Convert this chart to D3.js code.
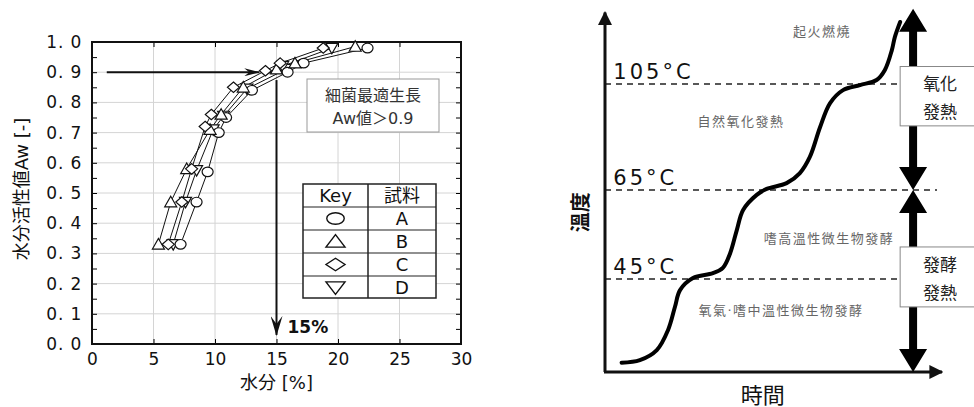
<!DOCTYPE html>
<html>
<head>
<meta charset="utf-8">
<script src="https://cdn.jsdelivr.net/npm/d3@7"></script>
<style>
  body { margin: 0; background: #fff; }
  svg { display: block; }
  text { font-family: "DejaVu Sans", "Noto Sans CJK JP", sans-serif; }
</style>
</head>
<body>
<div id="chart"></div>
<script>
// ---- left chart data: water content [%] vs water activity ----
const seriesKeys = ["A", "B", "C", "D"];
const seriesShapes = ["circle", "up", "diamond", "down"];
const awA = [0.33, 0.47, 0.57, 0.70, 0.75, 0.84, 0.90, 0.93, 0.98];
const moistA = [7.2, 8.5, 9.4, 10.3, 10.9, 13.0, 15.9, 17.2, 22.4];
const awB = [0.33, 0.47, 0.58, 0.71, 0.76, 0.85, 0.91, 0.93, 0.985];
const moistB = [5.4, 6.4, 7.7, 9.6, 10.5, 12.3, 15.0, 16.5, 21.4];
const awC = [0.33, 0.47, 0.58, 0.72, 0.76, 0.85, 0.905, 0.93, 0.98];
const moistC = [6.2, 7.3, 8.1, 9.2, 9.7, 11.5, 14.1, 15.3, 18.8];
const awD = [0.33, 0.47, 0.575, 0.71, 0.755, 0.845, 0.91, 0.92, 0.98];
const moistD = [6.6, 7.6, 8.5, 9.85, 10.7, 12.6, 15.8, 15.5, 19.5];
const xTicks = [0, 5, 10, 15, 20, 25, 30];
const yTicks = [0, 0.1, 0.2, 0.3, 0.4, 0.5, 0.6, 0.7, 0.8, 0.9, 1.0];

// ---- right chart data: temperature vs time (schematic) ----
const tempLevels = [45, 65, 105];
const curveTime = [5.0, 10.5, 15.6, 19.0, 21.1, 22.6, 26.5, 32.5, 35.5, 37.7, 39.7, 41.6, 45.7, 48.7,
  54.7, 58.7, 61.7, 64.8, 67.8, 71.7, 76.8, 81.8, 84.3, 86.4, 87.3, 88.9];
const curveTemp = [22.5, 23.2, 25.9, 31.3, 37.6, 42.0, 45.2, 46.3, 47.5, 50.8, 56.0, 60.5, 63.9, 65.4,
  67.6, 71.4, 77.5, 88.8, 97.8, 102.7, 104.6, 106.5, 110.3, 117.8, 122.7, 128.4];
const stageLabels = ["起火燃燒", "自然氧化發熱", "嗜高溫性微生物發酵", "氧氣·嗜中溫性微生物發酵"];
const stageTime = [65.4, 41.0, 67.5, 53.0];
const stageTemp = [125, 91, 54, 36.5];

const svg = d3.select("#chart").append("svg")
  .attr("width", 974).attr("height", 407);

// ================= LEFT CHART =================
const x = d3.scaleLinear().domain([0, 30]).range([92, 461]);
const y = d3.scaleLinear().domain([0, 1]).range([344, 42]);

const left = svg.append("g");

// grid
left.append("g").selectAll("line.gx")
  .data(xTicks.slice(1, -1))
  .join("line")
  .attr("x1", d => x(d)).attr("x2", d => x(d))
  .attr("y1", y(0)).attr("y2", y(1))
  .attr("stroke", "#d4d4d4").attr("stroke-width", 1);
left.append("g").selectAll("line.gy")
  .data(yTicks.slice(1, -1))
  .join("line")
  .attr("x1", x(0)).attr("x2", x(30))
  .attr("y1", d => y(d)).attr("y2", d => y(d))
  .attr("stroke", "#d4d4d4").attr("stroke-width", 1);

// axes with inward ticks
const fmtY = d => d3.format(".1f")(d).replace(".", ". ");
const yMinor = d3.range(0, 1.001, 0.05);

left.append("g")
  .attr("transform", `translate(${x(0)},0)`)
  .call(d3.axisLeft(y).tickValues(yMinor).tickSizeInner(-5).tickSizeOuter(0).tickPadding(10)
    .tickFormat(d => yTicks.some(t => Math.abs(t - d) < 1e-6) ? fmtY(d) : ""))
  .call(g => g.select(".domain").remove())
  .call(g => g.selectAll("text").attr("font-size", 17).attr("letter-spacing", 0.8)
    .attr("font-family", "DejaVu Sans, sans-serif").attr("fill", "#111"));

left.append("g")
  .attr("transform", `translate(${x(30)},0)`)
  .call(d3.axisRight(y).tickValues(yMinor).tickSizeInner(-5).tickSizeOuter(0).tickFormat(""))
  .call(g => g.select(".domain").remove());

left.append("g")
  .attr("transform", `translate(0,${y(0)})`)
  .call(d3.axisBottom(x).tickValues(xTicks).tickSizeInner(-5).tickSizeOuter(0).tickPadding(9))
  .call(g => g.select(".domain").remove())
  .call(g => g.selectAll("text").attr("font-size", 17)
    .attr("font-family", "DejaVu Sans, sans-serif").attr("fill", "#111"));

left.append("g")
  .attr("transform", `translate(0,${y(1)})`)
  .call(d3.axisTop(x).tickValues(xTicks).tickSizeInner(-5).tickSizeOuter(0).tickFormat(""))
  .call(g => g.select(".domain").remove());

left.append("rect")
  .attr("x", x(0)).attr("y", y(1))
  .attr("width", x(30) - x(0)).attr("height", y(0) - y(1))
  .attr("fill", "none").attr("stroke", "#111").attr("stroke-width", 2);

// axis titles
left.append("text")
  .attr("transform", `translate(21,${(y(0) + y(1)) / 2 - 4}) rotate(-90)`)
  .attr("text-anchor", "middle").attr("dominant-baseline", "central")
  .attr("font-size", 18).attr("fill", "#111")
  .attr("font-family", "Noto Sans CJK JP, sans-serif")
  .text("水分活性値Aw [-]");
left.append("text")
  .attr("x", (x(0) + x(30)) / 2).attr("y", 389)
  .attr("text-anchor", "middle").attr("font-size", 18).attr("fill", "#111")
  .attr("font-family", "Noto Sans CJK JP, sans-serif")
  .text("水分 [%]");

// symbols
function shapePath(kind, w, h) {
  if (kind === "up") return `M0,${-h * 0.55}L${w / 2},${h * 0.45}L${-w / 2},${h * 0.45}Z`;
  if (kind === "down") return `M0,${h * 0.55}L${w / 2},${-h * 0.45}L${-w / 2},${-h * 0.45}Z`;
  if (kind === "diamond") return `M0,${-h / 2}L${w / 2},0L0,${h / 2}L${-w / 2},0Z`;
  return null;
}
function drawSymbol(g, kind, cx, cy, w, h, sw) {
  if (kind === "circle") {
    g.append("ellipse").attr("cx", cx).attr("cy", cy)
      .attr("rx", w * 0.46).attr("ry", h * 0.46)
      .attr("fill", "#fff").attr("stroke", "#111").attr("stroke-width", sw);
  } else {
    g.append("path").attr("d", shapePath(kind, w, h))
      .attr("transform", `translate(${cx},${cy})`)
      .attr("fill", "#fff").attr("stroke", "#111").attr("stroke-width", sw);
  }
}

const seriesData = [
  d3.zip(moistA, awA), d3.zip(moistB, awB), d3.zip(moistC, awC), d3.zip(moistD, awD)
];
const line = d3.line().x(d => x(d[0])).y(d => y(d[1]));

const marks = left.append("g");
seriesData.forEach(pts => {
  marks.append("path").attr("d", line(pts))
    .attr("fill", "none").attr("stroke", "#111").attr("stroke-width", 1);
});
[3, 0, 1, 2].forEach(i => {
  seriesData[i].forEach(p => drawSymbol(marks, seriesShapes[i], x(p[0]), y(p[1]), 12, 10.5, 1.2));
});

// reference arrows
const defs = svg.append("defs");
defs.append("marker").attr("id", "arrH")
  .attr("viewBox", "0 0 16 8").attr("refX", 15).attr("refY", 4)
  .attr("markerWidth", 16).attr("markerHeight", 8).attr("markerUnits", "userSpaceOnUse")
  .attr("orient", "auto")
  .append("path").attr("d", "M0,0L16,4L0,8L5,4Z").attr("fill", "#111");
defs.append("marker").attr("id", "arrV")
  .attr("viewBox", "0 0 12 20").attr("refX", 6).attr("refY", 19)
  .attr("markerWidth", 12).attr("markerHeight", 20).attr("markerUnits", "userSpaceOnUse")
  .attr("orient", "0")
  .append("path").attr("d", "M0,0L6,8L12,0L6,20Z").attr("fill", "#111");

left.append("line")
  .attr("x1", x(1.2)).attr("x2", x(13.6))
  .attr("y1", y(0.9)).attr("y2", y(0.9))
  .attr("stroke", "#111").attr("stroke-width", 2)
  .attr("marker-end", "url(#arrH)");
left.append("line")
  .attr("x1", x(15)).attr("x2", x(15))
  .attr("y1", y(0.874)).attr("y2", y(0.03))
  .attr("stroke", "#111").attr("stroke-width", 2)
  .attr("marker-end", "url(#arrV)");
left.append("text")
  .attr("x", x(15) + 11).attr("y", y(0.03) - 2)
  .attr("font-size", 17).attr("font-weight", "bold").attr("fill", "#111")
  .attr("font-family", "Liberation Sans, sans-serif")
  .text("15%");

// note box
const noteG = left.append("g");
noteG.append("rect")
  .attr("x", 307).attr("y", 79).attr("width", 132).attr("height", 53)
  .attr("fill", "#fff").attr("stroke", "#999").attr("stroke-width", 1);
noteG.append("text").attr("x", 373).attr("y", 101)
  .attr("text-anchor", "middle").attr("font-size", 16).attr("fill", "#333")
  .attr("font-family", "Liberation Serif, Noto Sans CJK JP")
  .text("細菌最適生長");
noteG.append("text").attr("x", 373).attr("y", 124)
  .attr("text-anchor", "middle").attr("font-size", 16).attr("fill", "#333")
  .attr("font-family", "Liberation Serif, Noto Sans CJK JP")
  .text("Aw値＞0.9");

// key table
const tbl = left.append("g").attr("transform", "translate(303,184)");
const colW = [65, 68], rowH = 23;
const rows = [["Key", "試料"]].concat(seriesKeys.map((k, i) => [seriesShapes[i], k]));
tbl.append("rect").attr("width", colW[0] + colW[1]).attr("height", rowH * rows.length - 1)
  .attr("fill", "#fff").attr("stroke", "#222").attr("stroke-width", 1.5);
tbl.append("line").attr("x1", colW[0]).attr("x2", colW[0])
  .attr("y1", 0).attr("y2", rowH * rows.length - 1)
  .attr("stroke", "#222").attr("stroke-width", 1.5);
rows.forEach((r, i) => {
  if (i > 0) {
    tbl.append("line").attr("x1", 0).attr("x2", colW[0] + colW[1])
      .attr("y1", i * rowH).attr("y2", i * rowH)
      .attr("stroke", "#222").attr("stroke-width", 1.2);
  }
  const cy = i * rowH + rowH / 2;
  if (i === 0) {
    tbl.append("text").attr("x", colW[0] / 2).attr("y", cy)
      .attr("text-anchor", "middle").attr("dominant-baseline", "central")
      .attr("font-size", 18).attr("fill", "#111")
      .attr("font-family", "Liberation Sans, sans-serif").text(r[0]);
  } else {
    drawSymbol(tbl, r[0], colW[0] / 2, cy, 19, 12.5, 1.4);
  }
  tbl.append("text").attr("x", colW[0] + colW[1] / 2).attr("y", cy)
    .attr("text-anchor", "middle").attr("dominant-baseline", "central")
    .attr("font-size", 18).attr("fill", "#111")
    .attr("font-family", "Liberation Sans, Noto Sans CJK JP, sans-serif").text(r[1]);
});

// ================= RIGHT CHART =================
const t = d3.scaleLinear().domain([0, 100]).range([605, 937]);
const temp = d3.scaleLinear().domain([20, 45, 65, 105, 140]).range([372, 279, 190, 84, -8.75]);

const right = svg.append("g");

// dashed temperature levels
right.selectAll("line.lvl")
  .data(tempLevels)
  .join("line")
  .attr("x1", t(0)).attr("x2", d => d === 65 ? t(100) : t(88))
  .attr("y1", d => temp(d)).attr("y2", d => temp(d))
  .attr("stroke", "#222").attr("stroke-width", 1.3)
  .attr("stroke-dasharray", "6,5");
right.selectAll("text.lvl")
  .data(tempLevels)
  .join("text")
  .attr("x", t(2.5)).attr("y", d => temp(d) - 5)
  .attr("font-size", 21).attr("letter-spacing", 3).attr("fill", "#111")
  .attr("font-family", "DejaVu Sans, sans-serif")
  .text(d => d + "°C");

// axes with arrows
defs.append("marker").attr("id", "axArr")
  .attr("viewBox", "0 0 10 10").attr("refX", 9).attr("refY", 5)
  .attr("markerWidth", 14).attr("markerHeight", 14).attr("markerUnits", "userSpaceOnUse")
  .attr("orient", "auto")
  .append("path").attr("d", "M0,0L10,5L0,10Z").attr("fill", "#111");
right.append("line")
  .attr("x1", t(0)).attr("x2", t(0))
  .attr("y1", temp(20)).attr("y2", temp(132))
  .attr("stroke", "#111").attr("stroke-width", 3)
  .attr("marker-end", "url(#axArr)");
right.append("line")
  .attr("x1", t(0) - 1).attr("x2", t(101.5))
  .attr("y1", temp(20)).attr("y2", temp(20))
  .attr("stroke", "#111").attr("stroke-width", 3)
  .attr("marker-end", "url(#axArr)");

right.append("text")
  .attr("transform", `translate(581,${temp(60)}) rotate(-90)`)
  .attr("text-anchor", "middle").attr("dominant-baseline", "central")
  .attr("font-size", 20).attr("font-weight", "bold").attr("fill", "#111")
  .attr("font-family", "Noto Sans CJK TC, sans-serif")
  .text("溫度");
right.append("text")
  .attr("x", t(47.5)).attr("y", 403)
  .attr("text-anchor", "middle")
  .attr("font-size", 22).attr("fill", "#111")
  .attr("font-family", "Noto Sans CJK TC, sans-serif")
  .text("時間");

// curve
const curvePts = d3.zip(curveTime, curveTemp);
right.append("path")
  .attr("d", d3.line().x(d => t(d[0])).y(d => temp(d[1])).curve(d3.curveCatmullRom)(curvePts))
  .attr("fill", "none").attr("stroke", "#000").attr("stroke-width", 4)
  .attr("stroke-linecap", "round");

// stage labels
right.selectAll("text.stage")
  .data(stageLabels)
  .join("text")
  .attr("x", (d, i) => t(stageTime[i])).attr("y", (d, i) => temp(stageTemp[i]))
  .attr("text-anchor", "middle").attr("dominant-baseline", "central")
  .attr("font-size", 13).attr("letter-spacing", 1.5).attr("fill", "#666")
  .attr("font-family", "Noto Sans CJK TC, sans-serif")
  .text(d => d);

// big double arrows
const ax = t(92.8);
function bigArrow(yTop, yBot) {
  const hw = 14, hh = 23, sw = 4;
  const p = `M${ax},${yTop}L${ax + hw},${yTop + hh}L${ax + sw},${yTop + hh}L${ax + sw},${yBot - hh}` +
    `L${ax + hw},${yBot - hh}L${ax},${yBot}L${ax - hw},${yBot - hh}L${ax - sw},${yBot - hh}` +
    `L${ax - sw},${yTop + hh}L${ax - hw},${yTop + hh}Z`;
  right.append("path").attr("d", p).attr("fill", "#000");
}
bigArrow(temp(133.4), temp(65));
bigArrow(temp(65), temp(20));

// boxes
const boxData = [
  { top: 111.6, bottom: 89.2, lines: ["氧化", "發熱"] },
  { top: 52.2, bottom: 37.5, lines: ["發酵", "發熱"] }
];
boxData.forEach(b => {
  const y0 = temp(b.top), y1 = temp(b.bottom);
  right.append("rect")
    .attr("x", t(88.9)).attr("y", y0).attr("width", 80).attr("height", y1 - y0)
    .attr("fill", "#fff").attr("stroke", "#888").attr("stroke-width", 1);
  b.lines.forEach((l, i) => {
    right.append("text")
      .attr("x", 940).attr("y", y0 + (y1 - y0) * (i === 0 ? 0.3 : 0.77))
      .attr("text-anchor", "middle").attr("dominant-baseline", "central")
      .attr("font-size", 17).attr("fill", "#222")
      .attr("font-family", "Noto Sans CJK TC, sans-serif")
      .text(l);
  });
});
</script>
</body>
</html>
